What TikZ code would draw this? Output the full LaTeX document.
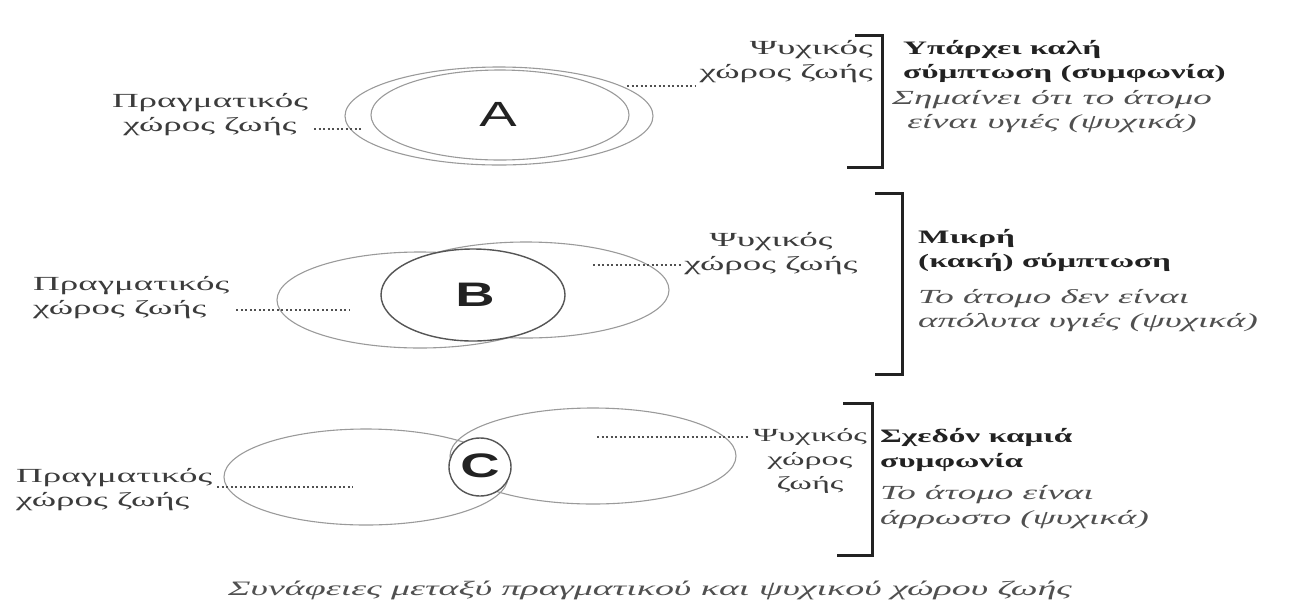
\documentclass[tikz,border=0pt]{standalone}
\usepackage{fontspec}
\setmainfont[FakeStretch=1.85]{Liberation Serif}
\newfontfamily\boldfam[FakeStretch=1.75]{Liberation Serif}
\newfontfamily\lettfont[FakeStretch=1.6]{Liberation Sans}
\usetikzlibrary{shapes.geometric}
\definecolor{ink}{HTML}{222222}
\definecolor{labelgray}{HTML}{3C3C3C}
\definecolor{notegray}{HTML}{505050}
\definecolor{ringgray}{HTML}{9A9A9A}
\definecolor{coregray}{HTML}{555555}
\definecolor{dotgray}{HTML}{505050}
\begin{document}
\begin{tikzpicture}[x=1pt,y=-1pt,
  lbl/.style={font=\fontsize{20}{24}\selectfont, text=labelgray, inner sep=0pt, align=center},
  ttl/.style={font=\boldfam\bfseries\fontsize{19}{24}\selectfont, text=ink, inner sep=0pt, anchor=west},
  note/.style={font=\itshape\fontsize{20}{24}\selectfont, text=notegray, inner sep=0pt, anchor=west},
  ring/.style={draw=ringgray, line width=1.1pt, ellipse, inner sep=0pt},
  core/.style={draw=coregray, line width=1.4pt, fill=white, ellipse, inner sep=0pt},
  dots/.style={draw=dotgray, line width=1.3pt, dash pattern=on 2pt off 2.5pt},
  brk/.style={draw=ink, line width=3pt},
  letter/.style={font=\lettfont\fontsize{35}{35}\selectfont, text=ink, inner sep=0pt},
  bletter/.style={font=\lettfont\bfseries\fontsize{34}{34}\selectfont, text=ink, inner sep=0pt}]
\useasboundingbox (0,0) rectangle (1294,606);

% ---------- Panel A ----------
\node[ring, minimum width=308pt, minimum height=98pt] (Aout) at (499,116) {};
\node[ring, minimum width=258pt, minimum height=90pt] (Ain) at (500,115) {};
\node[letter] (Alet) at (498,114) {A};
\node[lbl] (Areal) at (210,115) {Πραγματικός\\χώρος ζωής};
\coordinate (Arealend) at (363,129);
\draw[dots] ([xshift=6pt]Areal.east |- Arealend) -- (Arealend);
\node[lbl, align=right, anchor=east] (Apsy) at (873,62) {Ψυχικός\\χώρος ζωής};
\coordinate (Apsyend) at (627,86);
\draw[dots] (Apsyend) -- ([xshift=-3pt]Apsy.west |- Apsyend);
\coordinate (Ab1) at (855,35);
\coordinate (Ab2) at (882,35);
\coordinate (Ab3) at (882,167);
\coordinate (Ab4) at (847,167);
\draw[brk] (Ab1) -- (Ab2) -- (Ab3) -- (Ab4);
\node[ttl] (At1) at (903,49) {Υπάρχει καλή};
\node[ttl] (At2) at (903,73) {σύμπτωση (συμφωνία)};
\node[note, anchor=center] (At3) at (1052,100) {Σημαίνει ότι το άτομο};
\node[note, anchor=center] (At4) at (1052,124) {είναι υγιές (ψυχικά)};

% ---------- Panel B ----------
\node[ring, minimum width=286pt, minimum height=96pt] (Breal) at (420,300) {};
\node[ring, minimum width=286pt, minimum height=96pt] (Bpsyc) at (526,290) {};
\node[core, minimum width=184pt, minimum height=92pt] (Bcore) at (473,295) {};
\node[bletter] (Blet) at (475,295) {B};
\node[lbl, align=left, anchor=west] (Brl) at (33,298) {Πραγματικός\\χώρος ζωής};
\coordinate (Brlend) at (350,310);
\draw[dots] ([xshift=7pt]Brl.east |- Brlend) -- (Brlend);
\node[lbl] (Bps) at (771,254) {Ψυχικός\\χώρος ζωής};
\coordinate (Bpsend) at (593,265);
\draw[dots] (Bpsend) -- ([xshift=-2pt]Bps.west |- Bpsend);
\coordinate (Bb1) at (875,193);
\coordinate (Bb2) at (902,193);
\coordinate (Bb3) at (902,374);
\coordinate (Bb4) at (875,374);
\draw[brk] (Bb1) -- (Bb2) -- (Bb3) -- (Bb4);
\node[ttl] (Bt1) at (918,238) {Μικρή};
\node[ttl] (Bt2) at (918,262) {(κακή) σύμπτωση};
\node[note] (Bt3) at (918,299) {Το άτομο δεν είναι};
\node[note] (Bt4) at (918,323) {απόλυτα υγιές (ψυχικά)};

% ---------- Panel C ----------
\node[ring, minimum width=284pt, minimum height=96pt] (Creal) at (366,477) {};
\node[ring, minimum width=286pt, minimum height=96pt] (Cpsyc) at (593,456) {};
\node[core, minimum width=62pt, minimum height=58pt] (Ccore) at (480,467) {};
\node[bletter] (Clet) at (480,466) {C};
\node[lbl, align=left, anchor=west] (Crl) at (16,490) {Πραγματικός\\χώρος ζωής};
\coordinate (Crlend) at (353,487);
\draw[dots] ([xshift=5pt]Crl.east |- Crlend) -- (Crlend);
\node[lbl, font=\fontsize{18.5}{24}\selectfont] (Cps) at (810,461) {Ψυχικός\\χώρος\\ζωής};
\coordinate (Cpsend) at (597,437);
\draw[dots] (Cpsend) -- ([xshift=-3pt]Cps.west |- Cpsend);
\coordinate (Cb1) at (843,403);
\coordinate (Cb2) at (872,403);
\coordinate (Cb3) at (872,555);
\coordinate (Cb4) at (837,555);
\draw[brk] (Cb1) -- (Cb2) -- (Cb3) -- (Cb4);
\node[ttl] (Ct1) at (880,437) {Σχεδόν καμιά};
\node[ttl] (Ct2) at (880,462) {συμφωνία};
\node[note] (Ct3) at (880,495) {Το άτομο είναι};
\node[note] (Ct4) at (880,520) {άρρωστο (ψυχικά)};

% ---------- Caption ----------
\node[font=\itshape\fontsize{20.5}{24}\selectfont, text=notegray, inner sep=0pt] (cap) at (650,590) {Συνάφειες μεταξύ πραγματικού και ψυχικού χώρου ζωής};
\end{tikzpicture}
\end{document}
